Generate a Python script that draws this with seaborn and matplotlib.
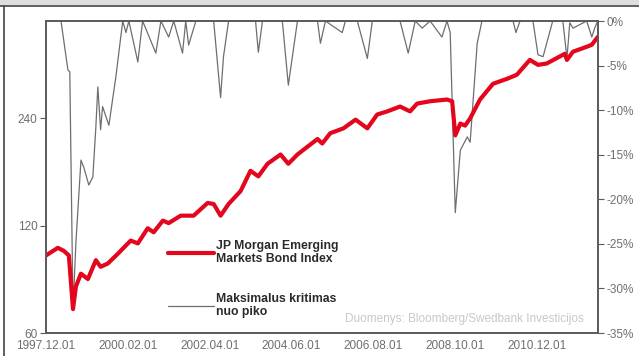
import matplotlib
matplotlib.use("Agg")
import matplotlib.pyplot as plt
import matplotlib.dates as mdates
from matplotlib.patches import Rectangle
from matplotlib.lines import Line2D
import seaborn as sns
import pandas as pd

# Index level (left axis, log scale)
index_dates = ["1997-12-01", "1998-03-25", "1998-05-22", "1998-07-10", "1998-08-19", "1998-09-16",
               "1998-11-04", "1999-01-10", "1999-03-28", "1999-05-13", "1999-07-22", "1999-10-25",
               "2000-02-28", "2000-05-07", "2000-08-10", "2000-10-07", "2001-01-04", "2001-03-01",
               "2001-06-25", "2001-10-28", "2002-03-13", "2002-05-10", "2002-07-16", "2002-10-01",
               "2003-01-25", "2003-05-01", "2003-07-16", "2003-10-13", "2004-02-16", "2004-05-01",
               "2004-07-28", "2004-11-04", "2005-02-07", "2005-03-25", "2005-06-10", "2005-10-16",
               "2006-02-10", "2006-06-04", "2006-09-07", "2006-12-13", "2007-04-16", "2007-07-22",
               "2007-09-28", "2008-02-01", "2008-07-13", "2008-09-01", "2008-10-01", "2008-11-19",
               "2009-01-04", "2009-02-22", "2009-05-28", "2009-10-01", "2010-02-16", "2010-05-19",
               "2010-09-22", "2010-12-10", "2011-03-04", "2011-08-25", "2011-09-16", "2011-11-13",
               "2012-03-25", "2012-05-13", "2012-07-10"]
index_values = [99, 104, 102, 99, 70, 81,
                88, 85, 96, 92, 94, 100,
                109, 107, 118, 115, 124, 122,
                128, 128, 139, 138, 128, 138,
                150, 171, 165, 179, 190, 179,
                190, 200, 210, 204, 218, 225,
                238, 225, 246, 251, 259, 251,
                264, 268, 271, 268, 215, 232,
                229, 240, 271, 300, 310, 318,
                350, 339, 342, 364, 350, 369,
                381, 386, 406]

# Drawdown from peak, % (right axis)
dd_dates = ["1997-12-01", "1998-04-25", "1998-07-01", "1998-07-19", "1998-08-19", "1998-09-16",
            "1998-11-04", "1998-12-01", "1999-01-19", "1999-02-27", "1999-03-28", "1999-04-16",
            "1999-05-13", "1999-06-01", "1999-08-01", "1999-10-07", "1999-12-13", "2000-01-13",
            "2000-02-10", "2000-05-07", "2000-06-22", "2000-10-28", "2000-12-16", "2001-03-01",
            "2001-04-19", "2001-07-13", "2001-08-13", "2001-09-10", "2001-11-19", "2002-05-10",
            "2002-07-16", "2002-08-13", "2002-10-01", "2003-06-19", "2003-07-16", "2003-08-25",
            "2004-03-04", "2004-05-01", "2004-07-28", "2005-02-07", "2005-03-07", "2005-04-25",
            "2005-10-04", "2005-11-04", "2006-02-27", "2006-06-04", "2006-07-22", "2007-04-16",
            "2007-07-04", "2007-09-10", "2007-11-16", "2008-02-01", "2008-05-25", "2008-07-13",
            "2008-08-13", "2008-10-01", "2008-11-19", "2009-01-25", "2009-02-22", "2009-05-01",
            "2009-06-16", "2010-04-13", "2010-05-10", "2010-06-19", "2010-10-22", "2010-12-10",
            "2011-01-28", "2011-05-01", "2011-08-07", "2011-09-16", "2011-10-13", "2011-11-13",
            "2012-03-25", "2012-05-13", "2012-06-13", "2012-07-10"]
dd_values = [0, 0, -5.5, -5.7, -32.4, -24.9,
             -15.6, -16.4, -18.4, -17.5, -11.9, -7.4,
             -12.2, -9.6, -11.7, -6.3, 0, -1.3,
             0, -4.6, 0, -3.6, 0, -1.8,
             0, -3.6, 0, -2.7, 0, 0,
             -8.6, -4.0, 0, 0, -3.5, 0,
             0, -7.2, 0, 0, -2.5, 0,
             -1.3, 0, 0, -4.2, 0, 0,
             -3.6, 0, -0.8, 0, -1.8, 0,
             -1.3, -21.5, -14.5, -13.0, -13.6, -2.5,
             0, 0, -1.3, 0, 0, -3.8,
             -4.0, 0, 0, -4.2, -0.2, -0.8,
             0, -1.8, -0.7, 0]

tick_dates = ["1997-12-01", "2000-02-01", "2002-04-01", "2004-06-01",
              "2006-08-01", "2008-10-01", "2010-12-01"]
left_ticks = [60, 120, 240]
right_ticks = [0, -5, -10, -15, -20, -25, -30, -35]

label_index = "JP Morgan Emerging\nMarkets Bond Index"
label_dd = "Maksimalus kritimas\nnuo piko"
source_text = "Duomenys: Bloomberg/Swedbank Investicijos"

df_index = pd.DataFrame({"date": pd.to_datetime(index_dates), "value": index_values})
df_dd = pd.DataFrame({"date": pd.to_datetime(dd_dates), "value": dd_values})

sns.set_style("white")
plt.rcParams["font.family"] = ["Liberation Sans", "DejaVu Sans"]

RED = "#e3061d"
GREY = "#6e6e6e"
TXT = "#6e6e6e"
FRAME = "#5a5a5a"

fig = plt.figure(figsize=(6.39, 3.56), dpi=100)
fig.patch.set_facecolor("white")
# Outer screenshot frame
fig.add_artist(Rectangle((0, 1 - 5 / 356), 1, 5 / 356, transform=fig.transFigure,
                         facecolor="#dedede", edgecolor="none"))
fig.add_artist(Line2D([0, 1], [1 - 6 / 356, 1 - 6 / 356], transform=fig.transFigure,
                      color="#444444", lw=1.2))
fig.add_artist(Line2D([3.5 / 639, 3.5 / 639], [0, 1 - 6 / 356], transform=fig.transFigure,
                      color="#444444", lw=1.2))

ax = fig.add_axes([46 / 639, 1 - 333 / 356, (598 - 46) / 639, (333 - 21) / 356])
ax2 = ax.twinx()

sns.lineplot(data=df_dd, x="date", y="value", ax=ax2, color=GREY, lw=0.9,
             label=label_dd, legend=False)
sns.lineplot(data=df_index, x="date", y="value", ax=ax, color=RED, lw=3.0,
             label=label_index, legend=False)

ax.set_zorder(ax2.get_zorder() + 1)
ax.patch.set_visible(False)

ax.set_yscale("log", base=2)
ax.set_ylim(60, 450)
ax.set_yticks(left_ticks)
ax.set_yticklabels([str(t) for t in left_ticks])
ax.minorticks_off()
ax.set_xlim(pd.Timestamp("1997-12-01"), pd.Timestamp("2012-07-12"))
ax.set_xticks(pd.to_datetime(tick_dates))
ax.xaxis.set_major_formatter(mdates.DateFormatter("%Y.%m.%d"))
ax.set_xlabel("")
ax.set_ylabel("")

ax2.set_ylim(-35, 0)
ax2.set_yticks(right_ticks)
ax2.set_yticklabels([f"{t}%" for t in right_ticks])
ax2.set_ylabel("")

for a in (ax, ax2):
    for s in a.spines.values():
        s.set_color(FRAME)
        s.set_linewidth(1.2)
ax.tick_params(axis="y", direction="out", length=4, width=0.8, color=FRAME,
               labelsize=8.5, labelcolor=TXT, pad=2)
ax.tick_params(axis="x", direction="inout", length=4, width=0.8, color=FRAME,
               labelsize=8.5, labelcolor=TXT, pad=3)
ax2.tick_params(axis="y", direction="out", length=4, width=0.8, color=FRAME,
                labelsize=8.5, labelcolor=TXT, pad=2)

handles = [Line2D([], [], color=RED, lw=3.0), Line2D([], [], color=GREY, lw=0.9)]
leg = ax.legend(handles, [label_index, label_dd], loc="lower left",
                bbox_to_anchor=((163 - 46) / 552, (333 - 323) / 312),
                frameon=False, handlelength=3.8, handletextpad=0.1,
                labelspacing=2.3, borderaxespad=0,
                prop={"size": 8.8, "weight": "bold"})
for t in leg.get_texts():
    t.set_color("#2a2a2a")
    t.set_linespacing(1.1)

ax.text(0.975, 0.025, source_text, transform=ax.transAxes, ha="right", va="bottom",
        fontsize=8.5, color="#c8c8c8")

fig.savefig("out.png", dpi=100)
